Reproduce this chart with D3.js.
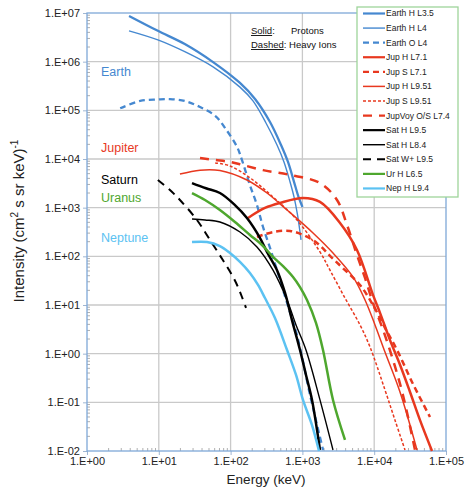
<!DOCTYPE html>
<html>
<head>
<meta charset="utf-8">
<script src="https://cdn.jsdelivr.net/npm/d3@7"></script>
<style>
body{margin:0;background:#fff;}
svg text{font-family:"Liberation Sans",Arial,sans-serif;}
</style>
</head>
<body>
<svg id="chart"></svg>
<script>
//chart data, energy in keV, intensity in (cm2 s sr keV)-1
var earthH35 = [[3.85,8.7e6],[9.7,4.3e6],[23,2.3e6],[57,9.8e5],[135,3.65e5],[219,1.71e5],[354,5.75e4],[504,1.94e4],[630,8.7e3],[764,3.4e3],[883,1.66e3],[1003,1.03e3]];
var earthH4 = [[3.85,4.3e6],[9.7,2.8e6],[23,1.6e6],[57,7.8e5],[135,3.0e5],[205,1.56e5],[311,5.5e4],[443,1.94e4],[554,8.7e3],[672,3.4e3],[764,1.66e3],[855,708],[957,217]];
var earthO4 = [[2.9,1.1e5],[5.5,1.56e5],[9.7,1.67e5],[14.3,1.7e5],[23,1.56e5],[37.5,1.17e5],[61,7.7e4],[84,4.3e4],[123,1.77e4],[144,9.5e3],[186,2.9e3],[233,1.13e3],[283,400],[354,150],[443,52],[611,11],[841,2.4],[1280,0.14],[1940,0.0105]];
var jupH71 = [[175,614],[301,985],[488,1250],[1019,1580],[1758,1310],[3342,484],[5754,135],[9618,16.1],[12050,6.9],[16600,1.9],[22870,0.59],[31540,0.163],[43430,0.043],[63850,0.01]];
var jupS71 = [[233,250],[390,316],[672,332],[1019,275],[1597,188],[2422,102],[3919,52],[6341,25.8],[9618,10],[14130,3.4],[20790,1.19],[34700,0.238],[59840,0.05]];
var jupH951 = [[19.7,4900],[37.5,5900],[71,5800],[169,3700],[321,2000],[611,895],[1406,302],[2668,117],[5070,37.7],[7448,12.7],[10260,3.9],[14130,1.08],[22870,0.163],[39450,0.0105]];
var jupS951 = [[61,8300],[98,7200],[186,4100],[390,1660],[841,558],[1758,123],[2422,52],[3919,13.9],[6341,3.9],[8747,1.37],[14130,0.18],[19480,0.043],[26850,0.0105]];
var jupVoy74 = [[37.5,10500],[61,9550],[98,8700],[149,7500],[283,5900],[672,4700],[1758,3200],[3034,1440],[4180,441],[5754,107],[7448,36],[9618,11],[13270,3.1],[18280,0.74],[25180,0.14],[37000,0.0105]];
var satH95 = [[29,3200],[45.4,2500],[71,2000],[115,1130],[169,614],[257,238],[321,123],[443,52],[573,17.7],[716,4.9],[926,1.19],[1122,0.365],[1361,0.112],[1758,0.0105]];
var satH84 = [[29,585],[44,558],[71,508],[135,316],[233,156],[390,52],[611,12.7],[815,3.9],[1122,1.19],[1758,0.112],[2668,0.0105]];
var satW95 = [[9.7,3700],[14.3,2300],[19.7,1440],[34,558],[51.6,217],[78,84],[104.5,41.4],[123,25.8],[144,14.6],[164,8.7]];
var urH65 = [[29,2000],[44,1440],[71,895],[115,508],[186,275],[274,171],[390,97],[537,63],[740,37.7],[926,23.4],[1159,12.7],[1546,4.3],[1936,1.19],[2668,0.112],[3919,0.0169]];
var nepH94 = [[29,197],[46.9,197],[71,163],[98,117],[135,77],[186,45.5],[241,25.8],[301,13.9],[415,5.4],[611,1.19],[815,0.365],[1019,0.112],[1361,0.034],[1703,0.01]];

var seriesNames = ['Earth H L3.5','Earth H L4','Earth O L4','Jup H L7.1','Jup S L7.1','Jup H L9.51','Jup S L9.51','JupVoy O/S L7.4','Sat H L9.5','Sat H L8.4','Sat W+ L9.5','Ur H L6.5','Nep H L9.4'];
var seriesData = [earthH35,earthH4,earthO4,jupH71,jupS71,jupH951,jupS951,jupVoy74,satH95,satH84,satW95,urH65,nepH94];
var planetNames = ['Earth','Jupiter','Saturn','Uranus','Neptune'];
var xTicks = [1,10,100,1e3,1e4,1e5];
var yTicks = [1e-2,1e-1,1,10,100,1e3,1e4,1e5,1e6,1e7];

//styles
var blue = '#4588d0', red = '#e8381f', green = '#4ea72e', lblue = '#5cc2f2';
var styles = [
	{c:blue,w:2.3,d:null},{c:blue,w:1.4,d:null},{c:blue,w:2.3,d:'6,4'},
	{c:red,w:2.5,d:null},{c:red,w:2.5,d:'6,4'},{c:red,w:1.5,d:null},{c:red,w:1.5,d:'3,2'},{c:red,w:2.5,d:'9,7'},
	{c:'#000',w:2.5,d:null},{c:'#000',w:1.4,d:null},{c:'#000',w:2,d:'8,6'},
	{c:green,w:2.5,d:null},{c:lblue,w:2.5,d:null}
];
var planetColor = [blue,red,'#000',green,lblue];
var planetY = [72,148,180,198,238];

var width = 467, height = 494;
var plot = {left:87,right:446,top:13,bottom:451};
var svg = d3.select('#chart').attr('width',width).attr('height',height);

var xScale = d3.scaleLog().domain([1,1e5]).range([plot.left,plot.right]);
var yScale = d3.scaleLog().domain([1e-2,1e7]).range([plot.bottom,plot.top]);
var expFmt = function(d){
	var e = Math.round(Math.log10(d));
	return '1.E' + (e<0?'-':'+') + (Math.abs(e)<10?'0':'') + Math.abs(e);
};

//grid
var gridG = svg.append('g');
gridG.selectAll('line.gx').data(xTicks.slice(1,-1)).enter().append('line')
	.attr('x1',function(d){return xScale(d);}).attr('x2',function(d){return xScale(d);})
	.attr('y1',plot.top).attr('y2',plot.bottom)
	.attr('stroke','#c9c9c9').attr('stroke-width',1.3);
gridG.selectAll('line.gy').data(yTicks.slice(1,-1)).enter().append('line')
	.attr('y1',function(d){return yScale(d);}).attr('y2',function(d){return yScale(d);})
	.attr('x1',plot.left).attr('x2',plot.right)
	.attr('stroke','#c9c9c9').attr('stroke-width',1.3);

//minor ticks inside
var minorX = xScale.ticks().filter(function(d){return xTicks.indexOf(d)<0;});
var minorY = yScale.ticks().filter(function(d){return yTicks.indexOf(d)<0;});
gridG.selectAll('line.mx').data(minorX).enter().append('line')
	.attr('x1',function(d){return xScale(d);}).attr('x2',function(d){return xScale(d);})
	.attr('y1',plot.bottom).attr('y2',plot.bottom-3).attr('stroke','#b0b0b0');
gridG.selectAll('line.my').data(minorY).enter().append('line')
	.attr('y1',function(d){return yScale(d);}).attr('y2',function(d){return yScale(d);})
	.attr('x1',plot.left).attr('x2',plot.left+3).attr('stroke','#b0b0b0');

//axes
var axisXG = svg.append('g').attr('transform','translate(0,'+plot.bottom+')')
	.call(d3.axisBottom(xScale).tickValues(xTicks).tickFormat(expFmt).tickSize(4).tickPadding(2));
var axisYG = svg.append('g').attr('transform','translate('+plot.left+',0)')
	.call(d3.axisLeft(yScale).tickValues(yTicks).tickFormat(expFmt).tickSize(4).tickPadding(3));
[axisXG,axisYG].forEach(function(g){
	g.select('.domain').remove();
	g.selectAll('line').attr('stroke','#9fb6d3');
	g.selectAll('text').attr('font-size',11).attr('fill','#222').attr('font-family','"Liberation Sans",Arial,sans-serif');
});
svg.append('rect').attr('x',plot.left).attr('y',plot.top)
	.attr('width',plot.right-plot.left).attr('height',plot.bottom-plot.top)
	.attr('fill','none').attr('stroke','#7fa8d8').attr('stroke-width',1.3);

//curves
var line = d3.line()
	.x(function(d){return xScale(d[0]);})
	.y(function(d){return yScale(d[1]);})
	.curve(d3.curveCatmullRom.alpha(0.5));
var linesG = svg.append('g');
seriesData.forEach(function(s,i){
	linesG.append('path').datum(s)
		.attr('d',line).attr('fill','none')
		.attr('stroke',styles[i].c).attr('stroke-width',styles[i].w)
		.attr('stroke-dasharray',styles[i].d);
});

//planet labels
svg.selectAll('text.planet').data(planetNames).enter().append('text')
	.attr('x',101).attr('y',function(d,i){return planetY[i];})
	.attr('dy','0.35em').attr('font-size',12.5)
	.attr('font-family','"Open Sans",sans-serif')
	.attr('fill',function(d,i){return planetColor[i];})
	.text(function(d){return d;});

//solid / dashed note
var note = svg.append('g').attr('font-family','"Open Sans",sans-serif').attr('font-size',9.5).attr('fill','#111');
var n1 = note.append('text').attr('x',251).attr('y',34);
n1.append('tspan').attr('text-decoration','underline').text('Solid');
n1.append('tspan').text(':');
note.append('text').attr('x',291).attr('y',34).text('Protons');
var n2 = note.append('text').attr('x',251).attr('y',48);
n2.append('tspan').attr('text-decoration','underline').text('Dashed');
n2.append('tspan').text(': Heavy Ions');

//legend
var legend = svg.append('g');
legend.append('rect').attr('x',357).attr('y',7).attr('width',101).attr('height',190)
	.attr('fill','#fff').attr('stroke','#9ed49a').attr('stroke-width',1.3);
var rows = legend.selectAll('g.row').data(seriesNames).enter().append('g')
	.attr('transform',function(d,i){return 'translate(0,'+(13.5+i*14.58)+')';});
rows.append('line').attr('x1',363).attr('x2',385)
	.attr('stroke',function(d,i){return styles[i].c;})
	.attr('stroke-width',function(d,i){return Math.min(styles[i].w,2.2);})
	.attr('stroke-dasharray',function(d,i){return styles[i].d;});
rows.append('text').attr('x',386).attr('dy','0.35em').attr('font-size',8.5).attr('fill','#222')
	.text(function(d){return d;});

//axis titles
svg.append('text').attr('x',266).attr('y',484).attr('text-anchor','middle')
	.attr('font-family','"Open Sans",sans-serif').attr('font-size',13.5).attr('fill','#222')
	.text('Energy (keV)');
var yt = svg.append('text').attr('transform','translate(24,221) rotate(-90)').attr('text-anchor','middle')
	.attr('font-family','"Open Sans",sans-serif').attr('font-size',15).attr('fill','#222');
yt.append('tspan').text('Intensity (cm');
yt.append('tspan').attr('dy',-6).attr('font-size',10).text('2');
yt.append('tspan').attr('dy',6).text(' s sr keV)');
yt.append('tspan').attr('dy',-6).attr('font-size',10).text('-1');
</script>
</body>
</html>
